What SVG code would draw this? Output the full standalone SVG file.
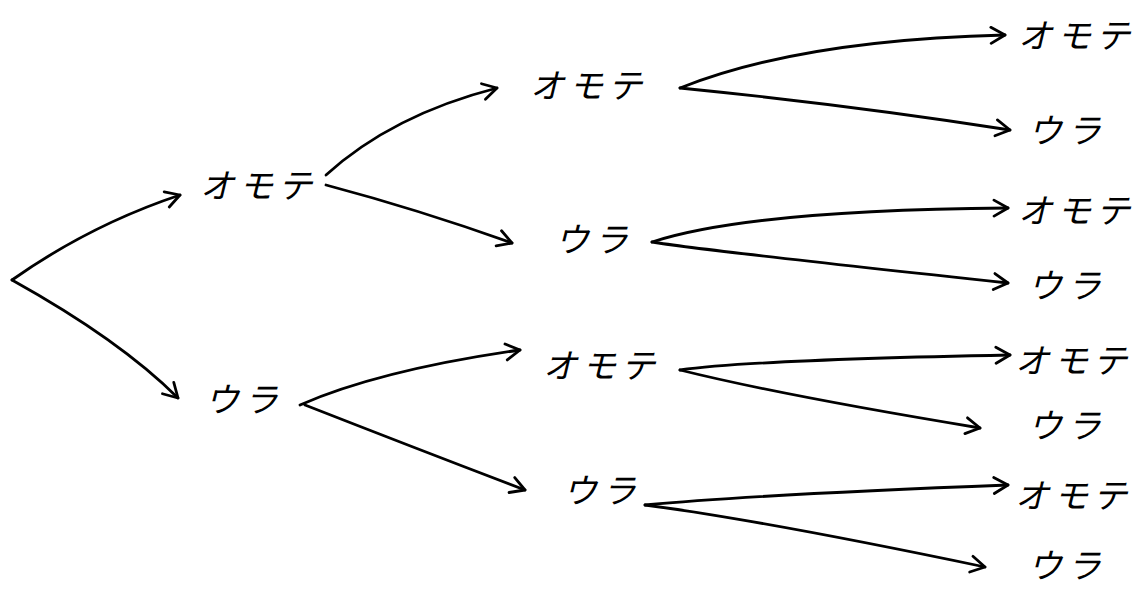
<svg xmlns="http://www.w3.org/2000/svg" width="1141" height="593" viewBox="0 0 1141 593">
<defs>
<marker id="arr" viewBox="0 0 20 20" refX="18" refY="10" markerWidth="20" markerHeight="20" markerUnits="userSpaceOnUse" orient="auto">
<polyline points="4,2 18,10 4,18" fill="none" stroke="#000" stroke-width="2.8" stroke-linecap="round" stroke-linejoin="round"/>
</marker>
<style>
.e{fill:none;stroke:#000;stroke-width:2.8;stroke-linecap:round;marker-end:url(#arr)}
.t{font-family:"Noto Sans CJK JP",sans-serif;font-size:34px;fill:#000;font-style:italic;letter-spacing:5px}
</style>
</defs>
<rect width="1141" height="593" fill="#fff"/>
<g id="connectors">
<path class="e" d="M12,280 Q90,225 180,195"/>
<path class="e" d="M12,280 Q120,340 178,398"/>
<path class="e" d="M326,175 Q392,115 497,88"/>
<path class="e" d="M326,185 Q420,210 512,243"/>
<path class="e" d="M300,405 Q380,370 520,350"/>
<path class="e" d="M305,405 Q420,450 525,490"/>
<path class="e" d="M680,88 Q800,40 1005,35"/>
<path class="e" d="M680,88 Q850,105 1010,130"/>
<path class="e" d="M652,242 Q750,210 1008,208"/>
<path class="e" d="M652,242 Q700,250 1008,283"/>
<path class="e" d="M680,370 Q750,360 1010,355"/>
<path class="e" d="M680,370 Q780,395 980,428"/>
<path class="e" d="M645,505 Q750,495 1008,485"/>
<path class="e" d="M645,505 Q760,520 985,567"/>
</g>
<g id="n1"><text class="t" x="200" y="198">オモテ</text></g>
<g id="n2"><text class="t" x="205" y="412">ウラ</text></g>
<g id="n3"><text class="t" x="530" y="98">オモテ</text></g>
<g id="n4"><text class="t" x="555" y="252">ウラ</text></g>
<g id="n5"><text class="t" x="543" y="378">オモテ</text></g>
<g id="n6"><text class="t" x="563" y="503">ウラ</text></g>
<g id="n7"><text class="t" x="1018" y="48">オモテ</text></g>
<g id="n8"><text class="t" x="1028" y="143">ウラ</text></g>
<g id="n9"><text class="t" x="1018" y="223">オモテ</text></g>
<g id="n10"><text class="t" x="1028" y="298">ウラ</text></g>
<g id="n11"><text class="t" x="1015" y="373">オモテ</text></g>
<g id="n12"><text class="t" x="1028" y="438">ウラ</text></g>
<g id="n13"><text class="t" x="1015" y="508">オモテ</text></g>
<g id="n14"><text class="t" x="1028" y="578">ウラ</text></g>
</svg>
